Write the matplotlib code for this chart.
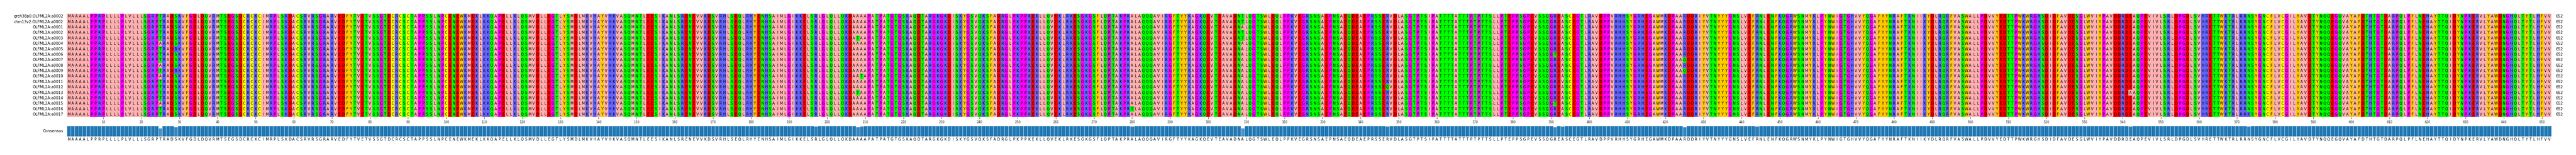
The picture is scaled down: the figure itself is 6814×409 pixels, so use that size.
from matplotlib import pyplot as plt
from matplotlib.colors import ListedColormap
import numpy as np

# Alignment data
row_names = ['grch38p0:OLFML2A:a0002', 'chm13v2:OLFML2A:a0002'] + ['OLFML2A:a%04d' % i for i in range(1, 18)]

seq_part_1 = 'MAAAALPPRPLLLLPLVLLLSGRPTRADSKVFGDLDQVRMTSEGSDCRCKCIMRPLSKDACSRVRSGRARVEDFYTVETVSSGTDCRCSCTAPPSSLNPCENEWKMEKLKKQAPELLKLQSMV'
seq_part_2 = 'DLLEGTLYSMDLMKVHAYVHKVASQMNTLEESIKANLSRENEVVKDSVRHLSEQLRHYENHSAIMLGIKKELSRLGLQLLQKDAAAAPATPATGTGSKAQ'
seq_part_3 = 'DTARGKGKDISKYGSVQKSFADRGLPKPPKEKLLQVEKLRKESGKGSFLQPTAKPRALAQQQAVIRGFTYYKAGKQEVTEAVADNALQGTSWLEQLPPKVE'
seq_part_4 = 'GRSNSAEPNSAEQDEAEPRSSERVDLASGTPTSIPATTTTATTTPTPTTSLLPTEPPSGPEVSSQGREASCEGTLRAVDPPVRHHSYGRHEGAWMKDPAAR'
seq_part_5 = 'DDRIYVTNYYYGNSLVEFRNLENFKQGRWSNMYKLPYNWIGTGHVVYQGAFYYNRAFTKNIIKYDLRQRFVASWALLPDVVYEDTTPWKWRGHSDIDFAV'
seq_part_6 = 'DESGLWVIYPAVDDRDEAQPEVIVLSRLDPGDLSVHRETTWKTRLRRNSYGNCFLVCGILYAVDTYNQQEGQVAYAFDTHTGTDARPQLPFLNEHAYTTQIDY'
seq_part_7 = 'NPKERVLYAWDNGHQLTYTLHFVV'
consensus = seq_part_1 + seq_part_2 + seq_part_3 + seq_part_4 + seq_part_5 + seq_part_6 + seq_part_7

# Differences from the consensus: (column, row indexes, letter), columns count from 1
variant_columns = [25, 29, 197, 208, 209, 280, 309, 347, 391, 393, 425, 444, 542, 573]
variant_rows = [[5, 9, 11, 16], [6, 10], [9], [4, 14], [11], [17], [0, 1, 3, 4], [13], [7, 16], [12], [8, 10], [15], [14], [18]]
variant_letters = ['A', 'R', 'H', 'T', 'T', 'S', 'T', 'Q', 'T', 'V', 'Q', 'H', 'A', 'K']

# Zappo colours
zappo = {'A': '#ffafaf', 'V': '#ffafaf', 'L': '#ffafaf', 'I': '#ffafaf', 'M': '#ffafaf',
         'F': '#ffc800', 'W': '#ffc800', 'Y': '#ffc800',
         'S': '#00ff00', 'T': '#00ff00', 'N': '#00ff00', 'Q': '#00ff00',
         'H': '#6464ff', 'K': '#6464ff', 'R': '#6464ff',
         'D': '#ff0000', 'E': '#ff0000',
         'G': '#ff00ff', 'P': '#ff00ff',
         'C': '#ffff00'}

# Layout in pixels
W = 6814
H = 409
DPI = 72
LEFT = 177.3
RIGHT = 6749
TOP = 36.2
BOTTOM = 309.2
CONS_TOP = 331.5
CONS_BOTTOM = 360
LETTER_SIZE = 9.5
LABEL_SIZE = 10
TICK_SIZE = 8


def make_axes(fig, top, bottom):
	return fig.add_axes([LEFT / W, 1 - bottom / H, (RIGHT - LEFT) / W, (bottom - top) / H])


n_rows = len(row_names)
n_cols = len(consensus)
rows = [list(consensus) for _ in range(n_rows)]
for col, idx, letter in zip(variant_columns, variant_rows, variant_letters):
	for r in idx:
		rows[r][col - 1] = letter

aa_list = sorted(zappo)
codes = np.array([[aa_list.index(c) for c in row] for row in rows])
cmap = ListedColormap([zappo[a] for a in aa_list])

fig = plt.figure(figsize=(W / DPI, H / DPI), dpi=DPI)

# Alignment block
ax = make_axes(fig, TOP, BOTTOM)
ax.pcolormesh(np.arange(n_cols + 1), np.arange(n_rows + 1), codes, cmap=cmap, vmin=0, vmax=len(aa_list) - 1, antialiased=False)
ax.set_xlim(0, n_cols)
ax.set_ylim(n_rows, 0)
for r in range(n_rows):
	for c in range(n_cols):
		ax.text(c + 0.45, r + 0.5, rows[r][c], ha='center', va='center', fontsize=LETTER_SIZE, color='black')
	ax.text(-1.0, r + 0.5, row_names[r], ha='right', va='center', fontsize=LABEL_SIZE, color='black')
	ax.text(n_cols + 1.1, r + 0.5, str(n_cols), ha='left', va='center', fontsize=LABEL_SIZE, color='black')
tick_cols = np.arange(10, n_cols + 1, 10)
ax.set_xticks(tick_cols - 0.5)
ax.set_xticklabels(tick_cols, fontsize=TICK_SIZE, color='#222222')
ax.tick_params(axis='x', length=4.5, width=0.8, pad=4.2)
ax.set_yticks([])
for s in ax.spines.values():
	s.set_visible(False)

# Consensus identity bars
identity = np.array([sum(rows[r][c] == consensus[c] for r in range(n_rows)) / n_rows for c in range(n_cols)])
ax2 = make_axes(fig, CONS_TOP, CONS_BOTTOM)
bars = ax2.bar(np.arange(n_cols) + 0.5, identity, width=1.0, color='#1f77b4', edgecolor='white', linewidth=0.6)
for b, v in zip(bars, identity):
	b.set_alpha(v)
ax2.set_xlim(0, n_cols)
ax2.set_ylim(0, 1)
ax2.axis('off')
ax2.text(-1.0, 0.5, 'Consensus', ha='right', va='center', fontsize=LABEL_SIZE, color='black')
for c in range(n_cols):
	ax2.text(c + 0.45, -0.29, consensus[c], ha='center', va='center', fontsize=LETTER_SIZE, color='black')

plt.savefig('out.png', dpi=DPI)
